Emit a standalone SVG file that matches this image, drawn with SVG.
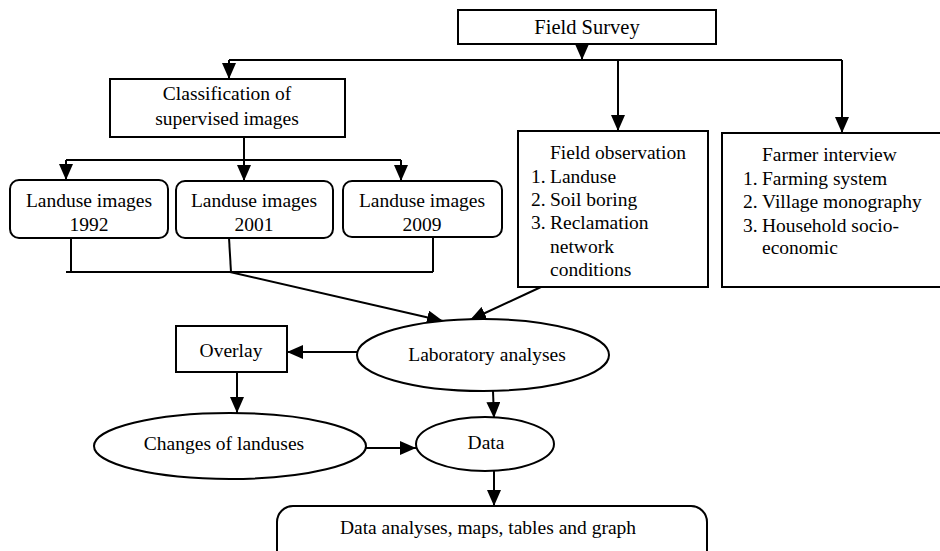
<svg xmlns="http://www.w3.org/2000/svg" width="940" height="551" viewBox="0 0 940 551">
<style>
.box{fill:#fff;stroke:#000;stroke-width:2}
.c{fill:none;stroke:#000;stroke-width:2}
text{font-family:"Liberation Serif","Times New Roman",serif;font-size:19.5px;fill:#000}
.m{text-anchor:middle}
</style>
<defs>
<marker id="ah" markerUnits="userSpaceOnUse" markerWidth="16" markerHeight="14" refX="16" refY="7" orient="auto">
<path d="M0,0 L16,7 L0,14 z" fill="#000"/>
</marker>
</defs>
<rect width="940" height="551" fill="#fff"/>
<g id="connectors">
<path class="c" d="M582,44 L582,60" marker-end="url(#ah)"/>
<path class="c" d="M229,60 L842,60"/>
<path class="c" d="M229,60 L229,79" marker-end="url(#ah)"/>
<path class="c" d="M618,60 L618,131" marker-end="url(#ah)"/>
<path class="c" d="M842,60 L842,133" marker-end="url(#ah)"/>
<path class="c" d="M244,137 L244,181" marker-end="url(#ah)"/>
<path class="c" d="M66,160 L401,160"/>
<path class="c" d="M66,160 L66,180" marker-end="url(#ah)"/>
<path class="c" d="M401,160 L401,181" marker-end="url(#ah)"/>
<path class="c" d="M71,238 L71,272"/>
<path class="c" d="M66,272 L433,272"/>
<path class="c" d="M229,238 L231,272"/>
<path class="c" d="M433,237 L433,272"/>
<path class="c" d="M230,272 L443,321" marker-end="url(#ah)"/>
<path class="c" d="M541,287 L470,320" marker-end="url(#ah)"/>
<path class="c" d="M357,352 L287,352" marker-end="url(#ah)"/>
<path class="c" d="M237,372 L237,413" marker-end="url(#ah)"/>
<path class="c" d="M366,448 L416,448" marker-end="url(#ah)"/>
<path class="c" d="M493,391 L494,418" marker-end="url(#ah)"/>
<path class="c" d="M494,471 L494,506" marker-end="url(#ah)"/>
</g>
<g id="field-survey">
<rect class="box" x="458" y="10" width="258" height="34"/>
<text class="m" x="587" y="34" style="font-size:20.5px">Field Survey</text>
</g>
<g id="classification">
<rect class="box" x="110" y="79" width="235" height="58"/>
<text class="m" x="227" y="100">Classification of</text>
<text class="m" x="227" y="125">supervised images</text>
</g>
<g id="landuse-1992">
<rect class="box" x="10" y="180" width="158" height="58" rx="9"/>
<text class="m" x="89" y="207">Landuse images</text>
<text class="m" x="89" y="231">1992</text>
</g>
<g id="landuse-2001">
<rect class="box" x="176" y="181" width="157" height="57" rx="9"/>
<text class="m" x="254" y="207">Landuse images</text>
<text class="m" x="254" y="231">2001</text>
</g>
<g id="landuse-2009">
<rect class="box" x="343" y="181" width="159" height="56" rx="9"/>
<text class="m" x="422" y="207">Landuse images</text>
<text class="m" x="422" y="231">2009</text>
</g>
<g id="field-observation">
<rect class="box" x="518" y="131" width="190" height="156"/>
<text x="550" y="159">Field observation</text>
<text x="531" y="183">1.</text><text x="550" y="183">Landuse</text>
<text x="531" y="206">2.</text><text x="550" y="206">Soil boring</text>
<text x="531" y="229">3.</text><text x="550" y="229">Reclamation</text>
<text x="550" y="253">network</text>
<text x="550" y="276">conditions</text>
</g>
<g id="farmer-interview">
<rect class="box" x="722" y="133" width="225" height="154"/>
<text x="762" y="161">Farmer interview</text>
<text x="743" y="185">1.</text><text x="762" y="185">Farming system</text>
<text x="743" y="208">2.</text><text x="762" y="208">Village monography</text>
<text x="743" y="232">3.</text><text x="762" y="232">Household socio-</text>
<text x="762" y="254">economic</text>
</g>
<g id="laboratory">
<ellipse class="box" cx="483" cy="355" rx="126" ry="36"/>
<text class="m" x="487" y="361">Laboratory analyses</text>
</g>
<g id="overlay">
<rect class="box" x="176" y="326" width="111" height="46"/>
<text class="m" x="231" y="357">Overlay</text>
</g>
<g id="changes">
<ellipse class="box" cx="230" cy="446" rx="136" ry="33"/>
<text class="m" x="224" y="450">Changes of landuses</text>
</g>
<g id="data">
<ellipse class="box" cx="485" cy="444" rx="69" ry="27"/>
<text class="m" x="486" y="449">Data</text>
</g>
<g id="final">
<rect class="box" x="277" y="506" width="430" height="60" rx="16"/>
<text class="m" x="488" y="534">Data analyses, maps, tables and graph</text>
</g>
</svg>
